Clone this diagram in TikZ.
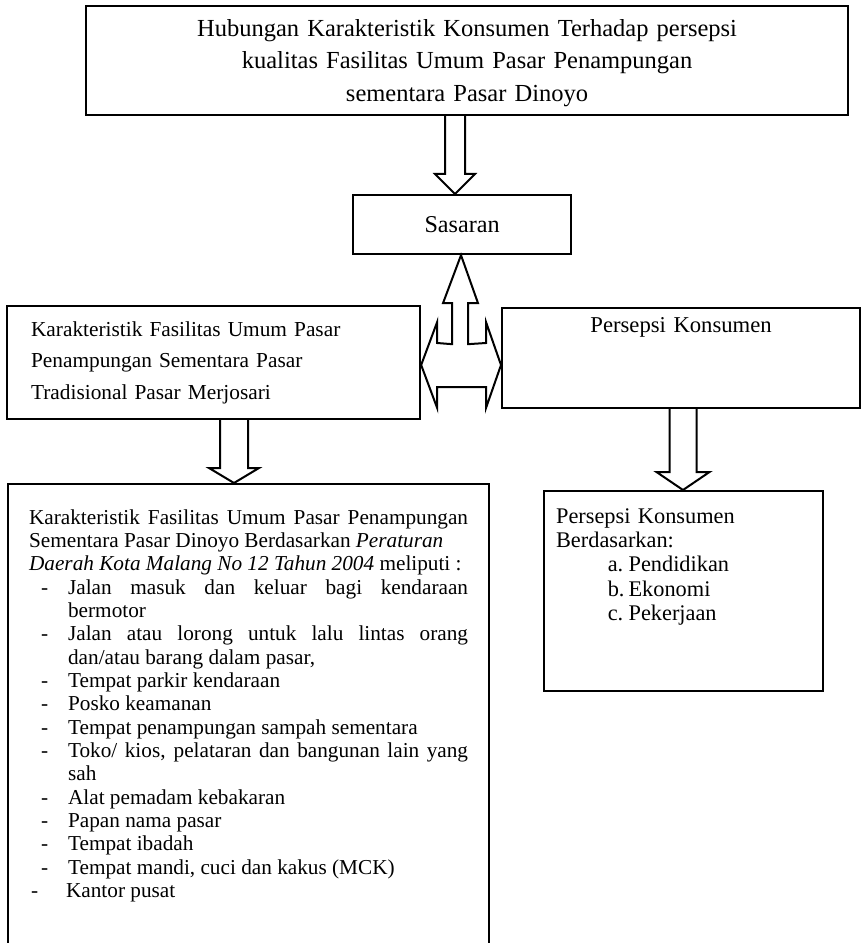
\documentclass[tikz,border=0pt]{standalone}
\usepackage{fontspec}
\setmainfont{Liberation Serif}
\usepackage{tikz}
\usetikzlibrary{calc}

\newcommand{\panahturun}[6]{%
  \coordinate (pa) at (#1.south -| #3);
  \coordinate (pb) at (#2.north -| #3);
  \draw[panah] ($(pa)+(-#4,0)$) -- ($(pb)+(-#4,-#6)$) -- ($(pb)+(-#5,-#6)$) -- (pb)
    -- ($(pb)+(#5,-#6)$) -- ($(pb)+(#4,-#6)$) -- ($(pa)+(#4,0)$);}
\newcommand{\butir}[1]{\par\noindent\hangindent=23.4pt\hangafter=1\hspace*{7.2pt}\makebox[16.2pt][l]{-}#1}

\begin{document}
\begin{tikzpicture}[x=0.6pt,y=-0.6pt,
  kotak/.style={draw,line width=1.3pt,rectangle,anchor=north west},
  panah/.style={draw,line width=1.2pt,fill=white,line join=miter}]
			\useasboundingbox (0,0) rectangle (861,943);
			\clip (0,0) rectangle (861,943);
			\node[kotak,inner sep=0pt,text width=457.2pt,align=center,text height=18pt,text depth=47.4pt,
			  font=\fontsize{14.7}{19.6}\selectfont] (judul) at (85,5)
			  {Hubungan Karakteristik Konsumen Terhadap persepsi\\
			   kualitas Fasilitas Umum Pasar Penampungan\\
			   sementara Pasar Dinoyo};
			\node[kotak,minimum width=130.8pt,minimum height=35.4pt,inner sep=0pt,
			  font=\fontsize{14.5}{17}\selectfont] (sasaran) at (352,194) {Sasaran};
			\node[kotak,minimum width=247.8pt,minimum height=67.8pt,inner xsep=14.4pt,inner ysep=0pt,
			  text width=219pt,align=left,font=\fontsize{12.8}{18.9}\selectfont] (fasilitas) at (6,305)
			  {Karakteristik Fasilitas Umum Pasar\\
			   Penampungan Sementara Pasar\\
			   Tradisional Pasar Merjosari};
			\node[kotak,inner sep=0pt,text width=214.8pt,align=center,text height=14.4pt,text depth=45.6pt,
			  font=\fontsize{13.6}{16}\selectfont] (persepsi) at (501,307) {Persepsi Konsumen};
			\node[kotak,inner xsep=7.2pt,inner ysep=0pt,text width=153pt,align=left,
			  text height=19.2pt,text depth=100.8pt,font=\fontsize{13.4}{14.6}\selectfont] (dasar) at (543,490)
			  {Persepsi Konsumen\\
			   Berdasarkan:\\
			   \hspace*{31pt}\makebox[12.5pt][l]{a.}Pendidikan\\
			   \hspace*{31pt}\makebox[12.5pt][l]{b.}Ekonomi\\
			   \hspace*{31pt}\makebox[12.5pt][l]{c.}Pekerjaan};
			\node[kotak,inner xsep=12.6pt,inner ysep=0pt,text width=263.4pt,align=justify,
			  text height=24pt,text depth=262.2pt,font=\fontsize{12.75}{14}\selectfont] (rincian) at (7,483)
			  {Karakteristik Fasilitas Umum Pasar Penampungan\linebreak
			   Sementara Pasar Dinoyo Berdasarkan \textit{Peraturan}\newline
			   \textit{Daerah Kota Malang No 12 Tahun 2004} meliputi :
			   \butir{Jalan masuk dan keluar bagi kendaraan\linebreak bermotor}
			   \butir{Jalan atau lorong untuk lalu lintas orang\linebreak dan/atau barang dalam pasar,}
			   \butir{Tempat parkir kendaraan}
			   \butir{Posko keamanan}
			   \butir{Tempat penampungan sampah sementara}
			   \butir{Toko/ kios, pelataran dan bangunan lain yang\linebreak sah}
			   \butir{Alat pemadam kebakaran}
			   \butir{Papan nama pasar}
			   \butir{Tempat ibadah}
			   \butir{Tempat mandi, cuci dan kakus (MCK)}
			   \par\noindent\hspace*{1.2pt}\makebox[21pt][l]{-}Kantor pusat\par};
			\coordinate (x1) at (455,0);
			\coordinate (x2) at (234,0);
			\coordinate (x3) at (683,0);
			\coordinate (xu) at (461,0);
			\coordinate (ym) at (0,365);
			\panahturun{judul}{sasaran}{x1}{10}{20}{20}
			\panahturun{fasilitas}{rincian}{x2}{14}{25}{15}
			\panahturun{persepsi}{dasar}{x3}{13.5}{26.5}{18}
			\coordinate (ut) at (sasaran.south -| xu);
			\coordinate (lt) at (fasilitas.east |- ym);
			\coordinate (rt) at (persepsi.west |- ym);
			\draw[panah] (ut) -- ($(ut)+(17,48)$) -- ($(ut)+(7,48)$) -- ($(ut)+(7,89)$)
			  -- ($(rt)+(-15,-22)$) -- ($(rt)+(-15,-43)$) -- (rt) -- ($(rt)+(-15,43)$) -- ($(rt)+(-15,22)$)
			  -- ($(lt)+(16,22)$) -- ($(lt)+(16,43)$) -- (lt) -- ($(lt)+(16,-43)$) -- ($(lt)+(16,-22)$)
			  -- ($(ut)+(-9,89)$) -- ($(ut)+(-9,48)$) -- ($(ut)+(-18,48)$) -- cycle;
		\end{tikzpicture}
\end{document}
